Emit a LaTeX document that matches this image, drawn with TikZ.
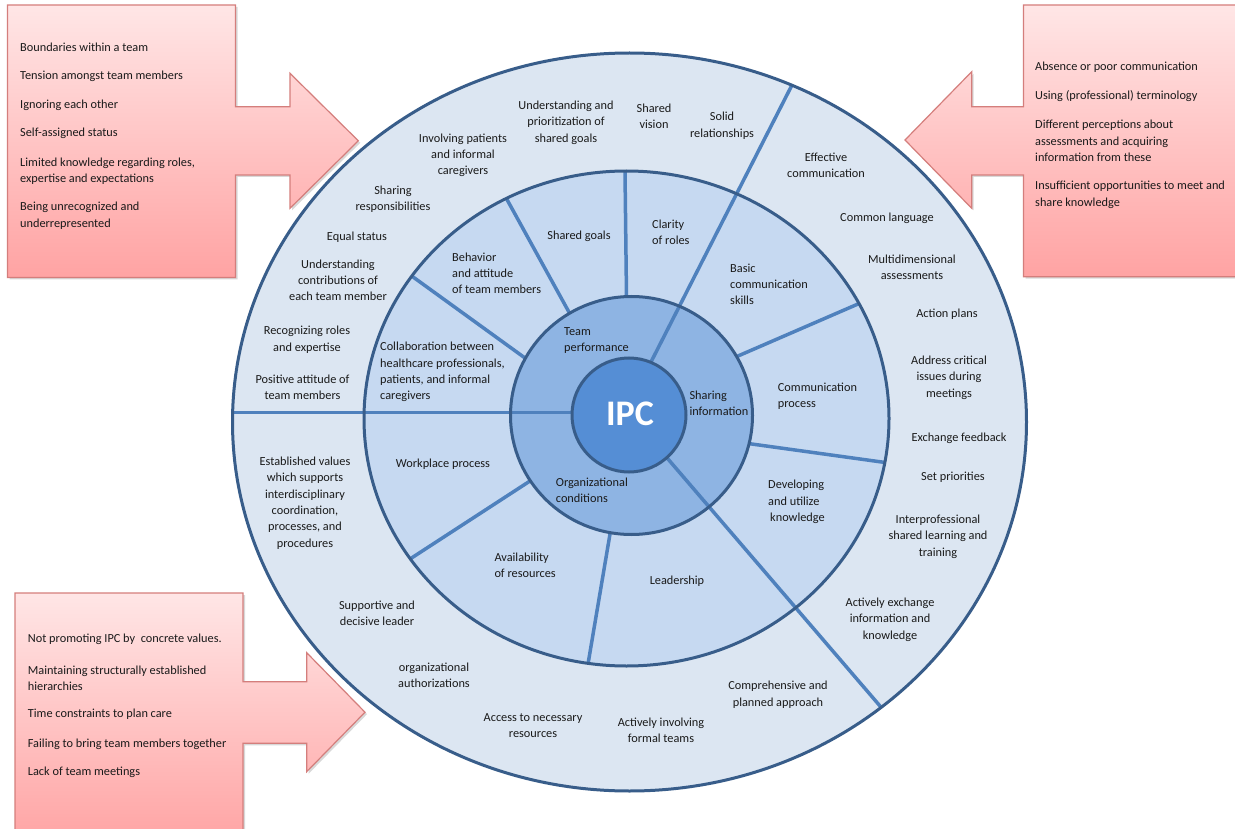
\documentclass[tikz,border=0pt]{standalone}
\usepackage{fontspec}
\setmainfont{Carlito}
\usetikzlibrary{calc,shadows}

\definecolor{ringA}{HTML}{DCE6F2}
\definecolor{ringB}{HTML}{C6D9F1}
\definecolor{ringC}{HTML}{8EB4E3}
\definecolor{ipcfill}{HTML}{558ED5}
\definecolor{ringline}{HTML}{385D8A}
\definecolor{divline}{HTML}{4F81BD}
\definecolor{pinktop}{HTML}{FFE6E6}
\definecolor{pinkbot}{HTML}{FFA3A3}
\definecolor{pinkline}{HTML}{D47E7C}
\definecolor{txt}{HTML}{1A1A1A}

\begin{document}
\begin{tikzpicture}[x=1pt,y=-1pt,
  every node/.style={inner sep=0pt, yshift=-1pt, text=txt, font=\fontsize{12.3}{16.3}\selectfont},
  lbl/.style={align=center},
  lbll/.style={align=left, anchor=west},
  boxtxt/.style={align=left, anchor=west, font=\fontsize{12.3}{16.5}\selectfont},
  ringborder/.style={draw=ringline, line width=3pt},
  divider/.style={draw=divline, line width=3.5pt},
  callout/.style={draw=pinkline, line width=1.2pt, top color=pinktop, bottom color=pinkbot,
    drop shadow={opacity=0.3, shadow xshift=2pt, shadow yshift=-2pt}}
]
\useasboundingbox (0,0) rectangle (1235,829);
\fill[white] (0,0) rectangle (1235,829);
\clip (0,0) rectangle (1235,829);

% ---------- callout boxes with arrows ----------
\path[callout] (7.5,5) -- (235.5,5) -- (235.5,106.7) -- (290,106.7) -- (290,73.3)
  -- (358.3,140.8) -- (290,208.3) -- (290,175) -- (235.5,175) -- (235.5,277.5)
  -- (7.5,277.5) -- cycle;
\path[callout] (1023.5,5) -- (1250,5) -- (1250,276.7) -- (1023.5,276.7) -- (1023.5,175)
  -- (971.7,175) -- (971.7,208.3) -- (905,140) -- (971.7,71.7) -- (971.7,106.7)
  -- (1023.5,106.7) -- cycle;
\path[callout] (15,593) -- (243,593) -- (243,681.7) -- (306.7,681.7) -- (306.7,652.7)
  -- (365,712.2) -- (306.7,771.7) -- (306.7,743.3) -- (243,743.3) -- (243,845)
  -- (15,845) -- cycle;

% ---------- rings ----------
\coordinate (cO) at (629.5,421);
\coordinate (cB) at (626.5,417.5);
\coordinate (cM) at (631.5,414.5);
\coordinate (cI) at (629,414);

\fill[ringA] (cO) ellipse [x radius=397pt, y radius=369pt];
\fill[ringB] (cB) ellipse [x radius=262.5pt, y radius=247.5pt];

% short dividers (second ring)
\coordinate (s1a) at (625,171);    \coordinate (s1b) at (626.5,296);
\coordinate (s2a) at (506.7,198);  \coordinate (s2b) at (570,313);
\coordinate (s3a) at (411.7,275);  \coordinate (s3b) at (525,357);
\coordinate (s4a) at (858,303);    \coordinate (s4b) at (738,355);
\coordinate (s5a) at (886.7,461.7);\coordinate (s5b) at (751.7,443);
\coordinate (s6a) at (410,558);    \coordinate (s6b) at (530,480);
\coordinate (s7a) at (588,663);    \coordinate (s7b) at (610,533);
\begin{scope}
  \clip (cB) ellipse [x radius=262.5pt, y radius=247.5pt];
  \foreach \s in {s1,s2,s3,s4,s5,s6,s7}
    \draw[divider] ($(\s a)!-0.1!(\s b)$) -- ($(\s a)!1.2!(\s b)$);
\end{scope}

\fill[ringC] (cM) ellipse [x radius=121pt, y radius=119pt];

% long dividers
\coordinate (l1a) at (232.5,411.5); \coordinate (l1b) at (572,411.5);
\coordinate (l2a) at (792,84);      \coordinate (l2b) at (651.5,360);
\coordinate (l3a) at (880,705);     \coordinate (l3b) at (668,458);
\begin{scope}
  \clip (cO) ellipse [x radius=397pt, y radius=369pt];
  \foreach \s in {l1,l2,l3}
    \draw[divider] ($(\s a)!-0.1!(\s b)$) -- ($(\s a)!1.15!(\s b)$);
\end{scope}

\filldraw[fill=ipcfill, draw=ringline, line width=3pt] (cI) circle [radius=57pt];
\draw[ringborder] (cO) ellipse [x radius=397pt, y radius=369pt];
\draw[ringborder] (cB) ellipse [x radius=262.5pt, y radius=247.5pt];
\draw[ringborder] (cM) ellipse [x radius=121pt, y radius=119pt];

\node[text=white, font=\fontsize{36}{40}\selectfont\bfseries] (ipc) at (630,413) {IPC};

% ---------- middle ring ----------
\node[lbll] (m1) at (564,339.5) {Team\\performance};
\node[lbll] (m2) at (689.3,402.5) {Sharing\\information};
\node[lbll] (m3) at (555.7,489.5) {Organizational\\conditions};

% ---------- second ring ----------
\node[lbll] (b1) at (452,272.2) {Behavior\\and attitude\\of team members};
\node[lbl]  (b2) at (579,235.7) {Shared goals};
\node[lbll] (b3) at (652,231.3) {Clarity\\of roles};
\node[lbll] (b4) at (730,283.3) {Basic\\communication\\skills};
\node[lbll] (b5) at (777.7,395.3) {Communication\\process};
\node[lbll] (b6) at (768,500.8) {Developing\\and utilize\\\hspace*{2pt}knowledge};
\node[lbl]  (b7) at (677,580) {Leadership};
\node[lbll] (b8) at (494.3,564.5) {Availability\\of resources};
\node[lbl]  (b9) at (443,463.3) {Workplace process};
\node[lbll] (b10) at (380,371.2) {Collaboration between\\healthcare professionals,\\patients, and informal\\caregivers};

% ---------- outer ring ----------
\node[lbl] (t1) at (566,121.5) {Understanding and\\prioritization of\\shared goals};
\node[lbl] (t2) at (654,115.5) {Shared\\vision};
\node[lbl] (t3) at (722,124.7) {Solid\\relationships};
\node[lbl] (t4) at (463,154.3) {Involving patients\\and informal\\caregivers};
\node[lbl] (t5) at (393,198) {Sharing\\responsibilities};
\node[lbl] (t6) at (357,236) {Equal status};
\node[lbl] (t7) at (338,279.3) {Understanding\\contributions of\\each team member};
\node[lbl] (t8) at (307,338.7) {Recognizing roles\\and expertise};
\node[lbl] (t9) at (302.5,386) {Positive attitude of\\team members};

\node[lbl] (r1) at (826,164) {Effective\\communication};
\node[lbl] (r2) at (887,217.3) {Common language};
\node[lbl] (r3) at (912,266) {Multidimensional\\assessments};
\node[lbl] (r4) at (947,313.3) {Action plans};
\node[lbl] (r5) at (949,376.7) {Address critical\\issues during\\meetings};
\node[lbl] (r6) at (959,437.3) {Exchange feedback};
\node[lbl] (r7) at (953,476.7) {Set priorities};
\node[lbl] (r8) at (938,535.5) {Interprofessional\\shared learning and\\training};
\node[lbl] (r9) at (890,618.7) {Actively exchange\\information and\\knowledge};
\node[lbl] (r10) at (778,693.8) {Comprehensive and\\planned approach};

\node[lbl] (o1) at (661,729.5) {Actively involving\\formal teams};
\node[lbl] (o2) at (533,724.5) {Access to necessary\\resources};
\node[lbl] (o3) at (434,674.5) {organizational\\authorizations};
\node[lbl] (o4) at (377,612) {Supportive and\\decisive leader};
\node[lbl] (o5) at (305,502) {Established values\\which supports\\interdisciplinary\\coordination,\\processes, and\\procedures};

% ---------- callout texts ----------
\node[boxtxt] (p1) at (20,46) {Boundaries within a team};
\node[boxtxt] (p2) at (20,75.5) {Tension amongst team members};
\node[boxtxt] (p3) at (20,104.3) {Ignoring each other};
\node[boxtxt] (p4) at (20,132.7) {Self-assigned status};
\node[boxtxt] (p5) at (20,170) {Limited knowledge regarding roles,\\expertise and expectations};
\node[boxtxt] (p6) at (20,214.7) {Being unrecognized and\\underrepresented};

\node[boxtxt] (q1) at (1035,66.7) {Absence or poor communication};
\node[boxtxt] (q2) at (1035,95) {Using (professional) terminology};
\node[boxtxt] (q3) at (1035,140) {Different perceptions about\\assessments and acquiring\\information from these};
\node[boxtxt] (q4) at (1035,193.7) {Insufficient opportunities to meet and\\share knowledge};

\node[boxtxt] (u1) at (27.7,638.3) {Not promoting IPC by~ concrete values.};
\node[boxtxt] (u2) at (27.7,677.2) {Maintaining structurally established\\hierarchies};
\node[boxtxt] (u3) at (27.7,713.3) {Time constraints to plan care};
\node[boxtxt] (u4) at (27.7,743.3) {Failing to bring team members together};
\node[boxtxt] (u5) at (27.7,771.7) {Lack of team meetings};
\end{tikzpicture}
\end{document}
